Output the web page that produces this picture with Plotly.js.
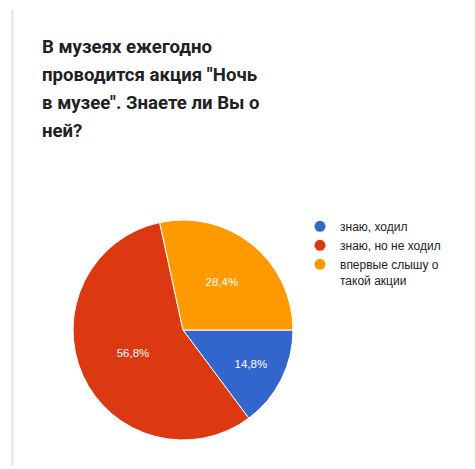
<!DOCTYPE html>
<html>
<head>
<meta charset="utf-8">
<script src="https://cdn.plot.ly/plotly-3.0.1.min.js"></script>
<style>
html,body{margin:0;padding:0;background:#fff;}
#chart{width:475px;height:469px;}
</style>
</head>
<body>
<div id="chart"></div>
<script>
const titleLines = ['В музеях ежегодно', 'проводится акция "Ночь', 'в музее". Знаете ли Вы о', 'ней?'];
const labels = ['знаю, ходил', 'знаю, но не ходил', 'впервые слышу о<br>такой акции'];
const values = [14.8, 56.8, 28.4];
const colors = ['#3366cc', '#dc3912', '#ff9900'];

const W = 475, H = 469;
const px = v => v / W;
const py = v => 1 - v / H;

const traces = [{
  type: 'pie',
  labels: labels,
  values: values,
  sort: false,
  direction: 'clockwise',
  rotation: 90,
  marker: {colors: colors, line: {color: '#ffffff', width: 1}},
  texttemplate: '%{percent:.1%}',
  textposition: 'inside',
  insidetextorientation: 'horizontal',
  textfont: {family: 'Liberation Sans, Arial, sans-serif', size: 11.5, color: '#ffffff'},
  hoverinfo: 'none',
  showlegend: false,
  domain: {x: [px(73), px(293)], y: [py(440), py(220)]}
}];
labels.forEach((l, i) => {
  traces.push({
    type: 'scatter', mode: 'markers', x: [null], y: [null], name: l,
    marker: {color: colors[i], size: 11, symbol: 'circle'},
    hoverinfo: 'none', showlegend: true
  });
});

const annotations = titleLines.map((t, i) => ({
  text: '<b>' + t + '</b>',
  xref: 'paper', yref: 'paper',
  x: px(40), y: py(47 + 28 * i),
  xanchor: 'left', yanchor: 'middle',
  showarrow: false,
  font: {family: 'Roboto, sans-serif', size: 18.6, color: '#202124'}
}));

const layout = {
  width: W, height: H,
  margin: {l: 0, r: 0, t: 0, b: 0},
  paper_bgcolor: '#ffffff', plot_bgcolor: '#ffffff',
  separators: ', ',
  xaxis: {visible: false}, yaxis: {visible: false},
  showlegend: true,
  legend: {
    x: px(300), y: py(212), xanchor: 'left', yanchor: 'top',
    valign: 'top',
    font: {family: 'Liberation Sans, Arial, sans-serif', size: 12, color: '#222222'},
    bgcolor: 'rgba(0,0,0,0)', tracegroupgap: 0
  },
  annotations: annotations,
  shapes: [{
    type: 'line', xref: 'paper', yref: 'paper',
    x0: px(12.5), x1: px(12.5), y0: py(10), y1: py(466),
    line: {color: '#e3e3e3', width: 2}
  }]
};

Plotly.newPlot('chart', traces, layout, {displayModeBar: false, staticPlot: true});
</script>
</body>
</html>
